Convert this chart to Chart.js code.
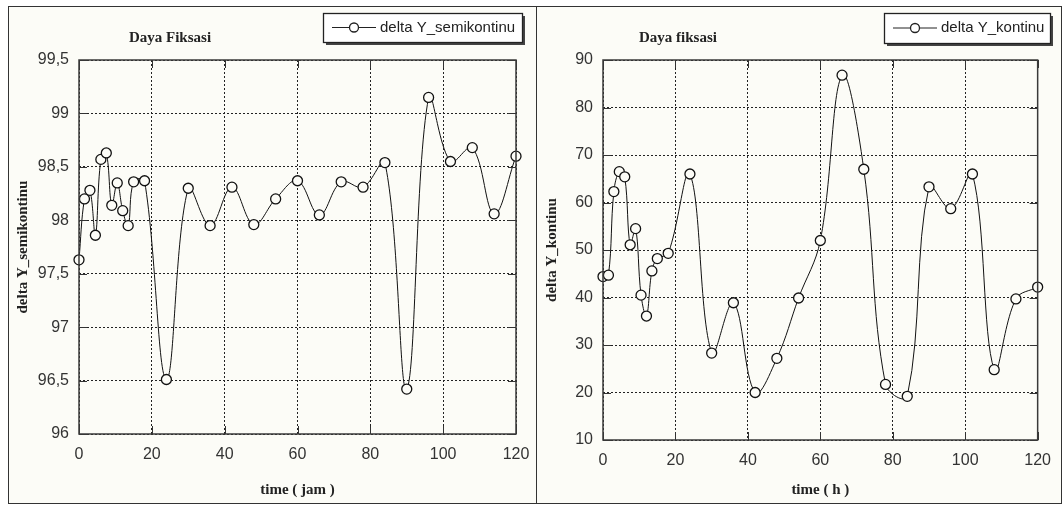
<!DOCTYPE html>
<html><head><meta charset="utf-8">
<script src="https://cdn.jsdelivr.net/npm/chart.js@4.4.1/dist/chart.umd.min.js"></script>
<style>
html,body{margin:0;padding:0;background:#fff;width:1062px;height:505px;overflow:hidden;}
.panel{position:absolute;box-sizing:border-box;border:1.5px solid #333;background:#fcfcf7;}
canvas{position:absolute;left:0;top:0;}
</style></head><body>
<div class="panel" style="left:8px;top:6px;width:529px;height:498px;"></div>
<div class="panel" style="left:536px;top:6px;width:526px;height:498px;"></div>
<canvas id="c1" width="1062" height="505"></canvas>
<canvas id="c2" width="1062" height="505"></canvas>
<script>
// ---- data ----
const timeJam = [0,1.5,3,4.5,6,7.5,9,10.5,12,13.5,15,18,24,30,36,42,48,54,60,66,72,78,84,90,96,102,108,114,120];
const deltaYSemikontinu = [97.63,98.20,98.28,97.86,98.57,98.63,98.14,98.35,98.09,97.95,98.36,98.37,96.51,98.30,97.95,98.31,97.96,98.20,98.37,98.05,98.36,98.31,98.54,96.42,99.15,98.55,98.68,98.06,98.60];
const timeH = [0,1.5,3,4.5,6,7.5,9,10.5,12,13.5,15,18,24,30,36,42,48,54,60,66,72,78,84,90,96,102,108,114,120];
const deltaYKontinu = [44.4,44.7,62.3,66.5,65.4,51.1,54.5,40.5,36.1,45.6,48.2,49.3,66.0,28.3,38.9,20.0,27.2,39.9,52.0,86.8,67.0,21.7,19.2,63.3,58.7,66.0,24.8,39.7,42.2];
const xTicks = [0,20,40,60,80,100,120];
const yTicksSemi = [96,96.5,97,97.5,98,98.5,99,99.5];
const yTicksKontinu = [10,20,30,40,50,60,70,80,90];
const titles = ['Daya Fiksasi','Daya fiksasi'];
const legendLabels = ['delta Y_semikontinu','delta Y_kontinu'];
const xTitles = ['time ( jam )','time ( h )'];
const yTitles = ['delta Y_semikontinu','delta Y_kontinu'];

const SANS = "'Liberation Sans', Arial, sans-serif";
const SERIF = "'Liberation Serif', 'Times New Roman', serif";

function decor(d){
  return {id:'decor'+d.k, afterDraw(chart){
    const ctx=chart.ctx, a=chart.chartArea, xs=chart.scales.x, ys=chart.scales.y;
    ctx.save();
    ctx.strokeStyle='#333'; ctx.lineWidth=1;
    ctx.beginPath();
    xs.ticks.forEach(t=>{const p=Math.round(xs.getPixelForValue(t.value))+0.5;
      ctx.moveTo(p,a.bottom); ctx.lineTo(p,a.bottom-8); ctx.moveTo(p,a.top); ctx.lineTo(p,a.top+8);});
    ys.ticks.forEach(t=>{const p=Math.round(ys.getPixelForValue(t.value))+0.5;
      ctx.moveTo(a.left,p); ctx.lineTo(a.left+8,p); ctx.moveTo(a.right,p); ctx.lineTo(a.right-8,p);});
    ctx.stroke();
    ctx.lineWidth=1.5; ctx.strokeStyle='#3a3a3a';
    ctx.strokeRect(a.left,a.top,a.right-a.left,a.bottom-a.top);
    // title
    ctx.font='bold 15px '+SERIF; ctx.fillStyle='#222'; ctx.textAlign='center'; ctx.textBaseline='middle';
    ctx.fillText(d.title,d.titleX,38);
    // legend
    const L=d.leg;
    ctx.fillStyle='#444'; ctx.fillRect(L.x+3,L.y+3,L.w,L.h);
    ctx.fillStyle='#fff'; ctx.fillRect(L.x,L.y,L.w,L.h);
    ctx.lineWidth=1.3; ctx.strokeStyle='#222'; ctx.strokeRect(L.x+0.5,L.y+0.5,L.w,L.h);
    const cy=L.y+L.h/2;
    ctx.lineWidth=1; ctx.beginPath(); ctx.moveTo(L.x+9,cy); ctx.lineTo(L.x+53,cy); ctx.stroke();
    ctx.beginPath(); ctx.arc(L.x+31,cy,4.5,0,Math.PI*2); ctx.fillStyle='#fff'; ctx.fill(); ctx.lineWidth=1.3; ctx.stroke();
    ctx.font='15px '+SANS; ctx.fillStyle='#222'; ctx.textAlign='left';
    ctx.fillText(d.label,L.x+57,cy);
    ctx.restore();
  }};
}

function makeChart(id,k,xsArr,ysArr,yMin,yMax,yTickArr,pad,yW,xH,yTitlePad,titleX,leg,fmt){
  return new Chart(document.getElementById(id),{
    type:'line',
    data:{datasets:[{
      label:legendLabels[k],
      data:xsArr.map((x,i)=>({x:x,y:ysArr[i]})),
      borderColor:'#111',borderWidth:1,tension:0.38,
      pointRadius:5,pointHoverRadius:5,pointBorderColor:'#111',pointBorderWidth:1.3,
      pointBackgroundColor:'#fcfcf7',clip:false
    }]},
    options:{
      responsive:false,animation:false,devicePixelRatio:1,
      layout:{padding:pad},
      plugins:{legend:{display:false},title:{display:false},tooltip:{enabled:false}},
      scales:{
        x:{type:'linear',min:xTicks[0],max:xTicks[xTicks.length-1],
          afterBuildTicks:s=>{s.ticks=xTicks.map(v=>({value:v}));},
          afterFit:s=>{s.height=xH;},
          grid:{color:'#222',lineWidth:1,drawTicks:false},
          border:{display:false,dash:[2,2]},
          ticks:{padding:11,color:'#333',font:{family:SANS,size:16},maxRotation:0,autoSkip:false},
          title:{display:true,text:xTitles[k],color:'#222',font:{family:SERIF,size:15,weight:'bold'},padding:{top:0,bottom:6}}
        },
        y:{type:'linear',min:yMin,max:yMax,
          afterBuildTicks:s=>{s.ticks=yTickArr.map(v=>({value:v}));},
          afterFit:s=>{s.width=yW;},
          grid:{color:'#222',lineWidth:1,drawTicks:false},
          border:{display:false,dash:[2,2]},
          ticks:{padding:10,color:'#333',font:{family:SANS,size:16},callback:fmt},
          title:{display:true,text:yTitles[k],color:'#222',font:{family:SERIF,size:15,weight:'bold'},padding:{top:yTitlePad,bottom:0}}
        }
      }
    },
    plugins:[decor({k:k,title:titles[k],titleX:titleX,leg:leg,label:legendLabels[k]})]
  });
}

makeChart('c1',0,timeJam,deltaYSemikontinu,96,99.5,yTicksSemi,
  {left:0,right:1062-516,top:60,bottom:0},79,505-434,14,170,
  {x:323,y:13,w:199,h:29},v=>String(v).replace('.',','));
makeChart('c2',1,timeH,deltaYKontinu,10,90,yTicksKontinu,
  {left:537,right:1062-1048,top:60,bottom:0},66,505-440,6,678,
  {x:884,y:13,w:166,h:30},v=>String(v));
</script>
</body></html>
